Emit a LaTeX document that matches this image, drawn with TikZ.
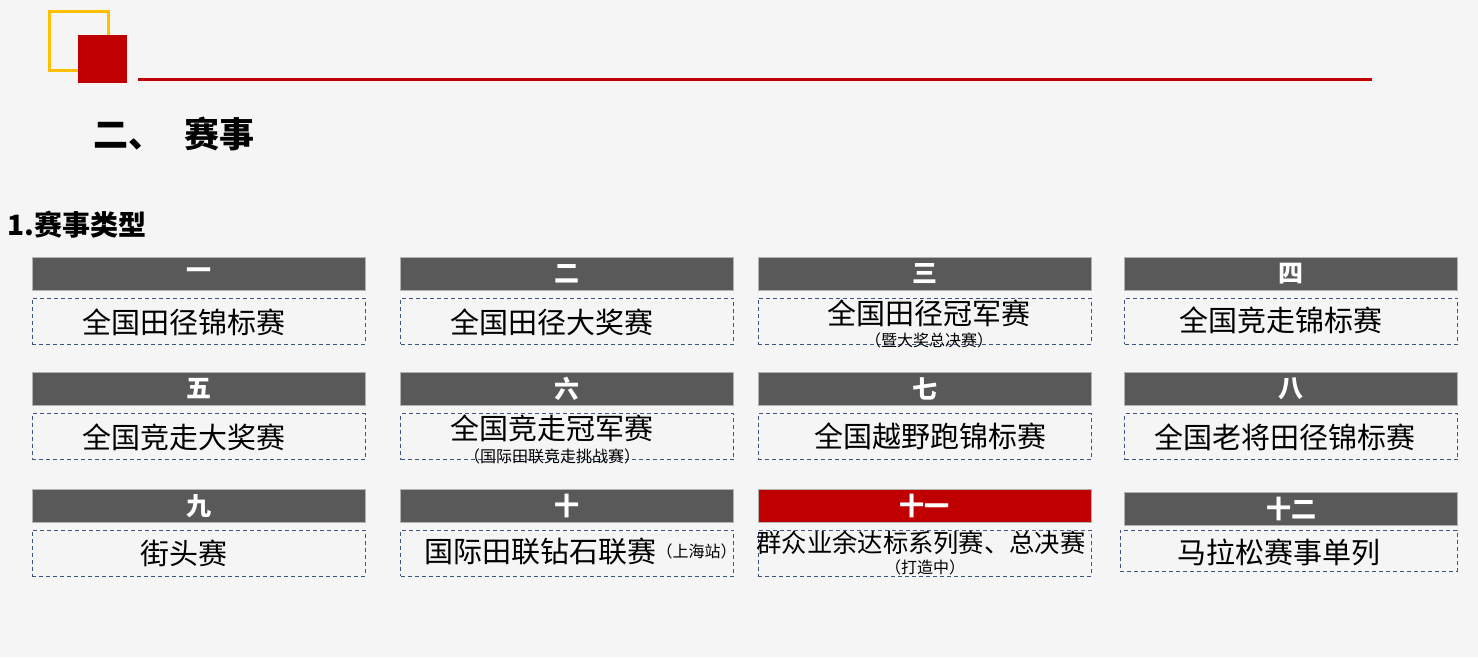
\documentclass[tikz,border=0pt]{standalone}
\usepackage{fontspec}
\setmainfont{Noto Sans CJK SC}
\definecolor{bargray}{HTML}{595959}
\definecolor{barred}{HTML}{C00000}
\definecolor{goldline}{HTML}{FFC000}
\definecolor{dashblue}{HTML}{3F5580}
\definecolor{pagebg}{HTML}{F5F5F5}
\tikzset{
    hdr/.style={fill=bargray,draw=gray!60,line width=0.5pt,minimum width=333pt,minimum height=33pt,
        inner sep=0pt,text=white,font=\fontsize{25}{27}\selectfont\bfseries},
    cell/.style={draw=dashblue,dash pattern=on 4pt off 3pt,line width=1pt,minimum width=333pt,
        minimum height=46pt,inner sep=0pt},
    big/.style={inner sep=0pt,font=\fontsize{29}{31}\selectfont},
    tiny/.style={inner sep=0pt,font=\fontsize{16}{18}\selectfont},
}
\begin{document}
\begin{tikzpicture}[x=1pt,y=-1pt]
    \useasboundingbox[fill=pagebg] (0,0) rectangle (1478,657);
    % heading
    \draw[goldline,line width=3pt] (49.5,11.5) rectangle (108.5,70.5);
    \fill[barred] (78,35) rectangle (127,83);
    \draw[barred,line width=3pt] (138,79) -- (1372,79);
    \node[anchor=west,inner sep=0pt,font=\fontsize{35}{37}\selectfont\bfseries] (title) at (93,134) {二、\hspace{0.6em}赛事};
    \node[anchor=west,inner sep=0pt,font=\fontsize{28}{30}\selectfont\bfseries] (sub) at (7,225) {1.赛事类型};

    % header bars
    \foreach \n/\cx/\cy/\lbl in {1/198.5/273.5/一,2/567/273.5/二,3/924.5/273.5/三,4/1291/273.5/四,
        5/198.5/389/五,6/567/389/六,7/924.5/389/七,8/1291/389/八,
        9/198.5/506/九,10/567/506/十,12/1291/509/十二}{
        \node[hdr] (h\n) at (\cx,\cy) {\lbl};
    }
    \node[hdr,fill=barred] (h11) at (924.5,506) {十一};

    % dashed boxes
    \foreach \n/\cx/\cy in {1/198.5/321,2/567/321,3/924.5/321,4/1291/321,
        5/198.5/436.5,6/567/436.5,7/924.5/436.5,8/1291/436.5,
        9/198.5/553,10/567/553,11/924.5/553}{
        \node[cell] (b\n) at (\cx,\cy) {};
    }
    \node[cell,minimum width=337pt,minimum height=41pt] (b12) at (1288.5,550.5) {};

    % box texts
    \node[big] (t1) at (184,322) {全国田径锦标赛};
    \node[big] (t2) at (552,322) {全国田径大奖赛};
    \node[big] (t3) at (929,313) {全国田径冠军赛};
    \node[tiny] (s3) at (929,340) {（暨大奖总决赛）};
    \node[big] (t4) at (1281,320) {全国竞走锦标赛};
    \node[big] (t5) at (184,437) {全国竞走大奖赛};
    \node[big] (t6) at (552,428) {全国竞走冠军赛};
    \node[tiny] (s6) at (552,456) {（国际田联竞走挑战赛）};
    \node[big] (t7) at (930,436) {全国越野跑锦标赛};
    \node[big] (t8) at (1285,437) {全国老将田径锦标赛};
    \node[big] (t9) at (184,553) {街头赛};
    \node[big,anchor=west] (t10) at (424,551) {国际田联钻石联赛};
    \node[tiny,anchor=west] (s10) at (t10.east) {（上海站）};
    \node[big,font=\fontsize{25.3}{27}\selectfont] (t11) at (921,543) {群众业余达标系列赛、总决赛};
    \node[tiny] (s11) at (925,567) {（打造中）};
    \node[big] (t12) at (1279,552) {马拉松赛事单列};
\end{tikzpicture}
\end{document}
